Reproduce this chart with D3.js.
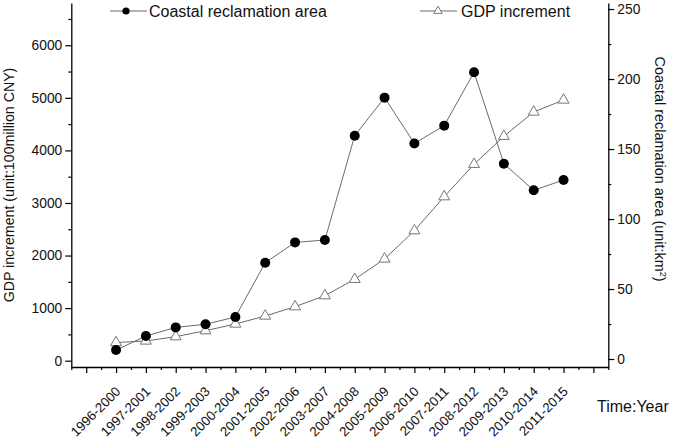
<!DOCTYPE html>
<html>
<head>
<meta charset="utf-8">
<script src="https://cdn.jsdelivr.net/npm/d3@7"></script>
<style>
  html, body { margin: 0; padding: 0; background: #fff; }
  svg { display: block; font-family: "Liberation Sans", Arial, sans-serif; }
</style>
</head>
<body>
<svg id="chart" width="675" height="438"></svg>
<script>
const categories = ["1996-2000","1997-2001","1998-2002","1999-2003","2000-2004","2001-2005","2002-2006","2003-2007","2004-2008","2005-2009","2006-2010","2007-2011","2008-2012","2009-2013","2010-2014","2011-2015"];
const coastalArea = [6.4, 16.4, 22.6, 24.8, 30, 68.8, 83.3, 85, 159.5, 186.7, 154, 166.7, 204.8, 139.5, 120.5, 127.9];
const gdpIncrement = [345, 375, 457, 571, 698, 850, 1027, 1237, 1548, 1935, 2473, 3120, 3736, 4269, 4731, 4959];
const leftTicks = [0, 1000, 2000, 3000, 4000, 5000, 6000];
const rightTicks = [0, 50, 100, 150, 200, 250];

const svg = d3.select("#chart");
const L = 71.3, R = 608.3, T = 3, B = 367;

const x = d3.scaleLinear().domain([-1.5, 16.5]).range([L, R]);
const yL = d3.scaleLinear().domain([-120, 6804]).range([B, T]);
const yR = d3.scaleLinear().domain([-5.7, 254.3]).range([B, T]);

const axisColor = "#000";
const lineColor = "#6a6a6a";
const fmt = d3.format("d");

// Bottom axis: major ticks at categories, minor in between
const majorX = d3.range(-1, 17);
const minorX = d3.range(-1.5, 17, 1);
const gx = svg.append("g").attr("transform", `translate(0,${B})`);
gx.call(d3.axisBottom(x).tickValues(minorX).tickSize(3).tickFormat(""));
gx.call(g => g.select(".domain").remove());
const gx2 = svg.append("g").attr("transform", `translate(0,${B})`);
gx2.call(d3.axisBottom(x).tickValues(majorX).tickSize(6).tickFormat("").tickSizeOuter(0));
gx2.select(".domain").attr("stroke-width", 1.3);

// x labels
svg.append("g").selectAll("text").data(categories).join("text")
  .attr("transform", (d, i) => `translate(${x(i) + 2},${B + 22}) rotate(-45)`)
  .attr("text-anchor", "end")
  .attr("dy", "0.35em")
  .attr("font-size", 13.3)
  .attr("fill", "#111")
  .text(d => d);

// Left axis
const gl = svg.append("g").attr("transform", `translate(${L},0)`);
gl.call(d3.axisLeft(yL).tickValues(d3.range(500, 6800, 1000)).tickSize(3).tickFormat(""));
gl.select(".domain").remove();
const gl2 = svg.append("g").attr("transform", `translate(${L},0)`);
gl2.call(d3.axisLeft(yL).tickValues(leftTicks).tickSize(6).tickSizeOuter(0).tickPadding(3).tickFormat(fmt));
gl2.select(".domain").attr("stroke-width", 1.3);
gl2.selectAll("text").attr("font-size", 13.8).attr("fill", "#111").attr("font-family", "Liberation Sans, Arial, sans-serif");

// Right axis
const gr = svg.append("g").attr("transform", `translate(${R},0)`);
gr.call(d3.axisRight(yR).tickValues(d3.range(25, 250, 50)).tickSize(3).tickFormat(""));
gr.select(".domain").remove();
const gr2 = svg.append("g").attr("transform", `translate(${R},0)`);
gr2.call(d3.axisRight(yR).tickValues(rightTicks).tickSize(6).tickSizeOuter(0).tickPadding(3).tickFormat(fmt));
gr2.select(".domain").attr("stroke-width", 1.3);
gr2.selectAll("text").attr("font-size", 13.8).attr("fill", "#111").attr("font-family", "Liberation Sans, Arial, sans-serif");

svg.selectAll(".tick line").attr("stroke", axisColor).attr("stroke-width", 1.2);
svg.selectAll(".domain").attr("stroke", axisColor);

// Axis titles
svg.append("text")
  .attr("transform", `translate(14,185) rotate(-90)`)
  .attr("text-anchor", "middle")
  .attr("font-size", 14.2)
  .attr("fill", "#111")
  .text("GDP increment (unit:100million CNY)");

const rt = svg.append("text")
  .attr("transform", `translate(655,169) rotate(90)`)
  .attr("text-anchor", "middle")
  .attr("font-size", 14.4)
  .attr("fill", "#111");
rt.append("tspan").text("Coastal reclamation area (unit:km");
rt.append("tspan").attr("baseline-shift", "super").attr("font-size", 9).text("2");
rt.append("tspan").text(")");

svg.append("text")
  .attr("x", 597).attr("y", 412)
  .attr("font-size", 16)
  .attr("fill", "#111")
  .text("Time:Year");

// Series lines
const lineGdp = d3.line().x((d, i) => x(i)).y(d => yL(d));
const lineArea = d3.line().x((d, i) => x(i)).y(d => yR(d));

svg.append("path").attr("d", lineGdp(gdpIncrement))
  .attr("fill", "none").attr("stroke", lineColor).attr("stroke-width", 1);
svg.append("path").attr("d", lineArea(coastalArea))
  .attr("fill", "none").attr("stroke", lineColor).attr("stroke-width", 1);

const tri = d3.symbol(d3.symbolTriangle, 52);
svg.append("g").selectAll("path").data(gdpIncrement).join("path")
  .attr("d", tri)
  .attr("transform", (d, i) => `translate(${x(i)},${yL(d)})`)
  .attr("fill", "#fff").attr("stroke", "#777").attr("stroke-width", 1);

svg.append("g").selectAll("circle").data(coastalArea).join("circle")
  .attr("cx", (d, i) => x(i)).attr("cy", d => yR(d)).attr("r", 5)
  .attr("fill", "#000");

// Legend
const leg = svg.append("g");
leg.append("line").attr("x1", 110).attr("x2", 147).attr("y1", 11).attr("y2", 11)
  .attr("stroke", lineColor).attr("stroke-width", 1);
leg.append("circle").attr("cx", 126).attr("cy", 11).attr("r", 3.6).attr("fill", "#000");
leg.append("text").attr("x", 149).attr("y", 17).attr("font-size", 16).attr("fill", "#111")
  .text("Coastal reclamation area");

leg.append("line").attr("x1", 420).attr("x2", 457).attr("y1", 11).attr("y2", 11)
  .attr("stroke", lineColor).attr("stroke-width", 1);
leg.append("path").attr("d", d3.symbol(d3.symbolTriangle, 30))
  .attr("transform", "translate(438,11)")
  .attr("fill", "#fff").attr("stroke", "#777").attr("stroke-width", 1);
leg.append("text").attr("x", 461).attr("y", 17).attr("font-size", 16).attr("fill", "#111")
  .text("GDP increment");
</script>
</body>
</html>
